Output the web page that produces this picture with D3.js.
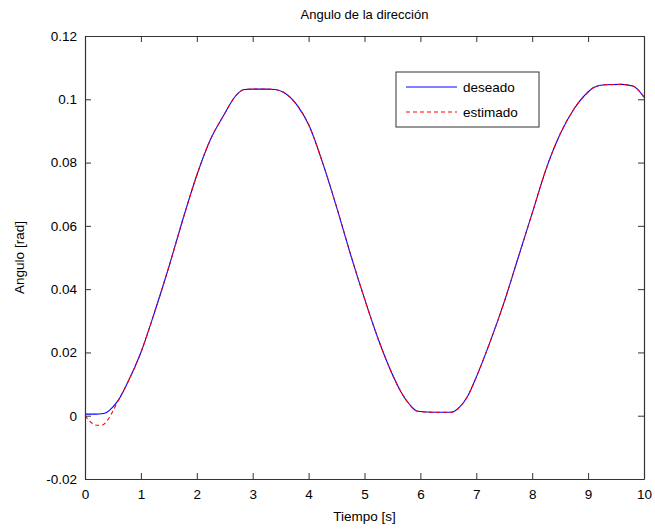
<!DOCTYPE html>
<html>
<head>
<meta charset="utf-8">
<script src="https://cdn.jsdelivr.net/npm/d3@7"></script>
<style>
body{margin:0;background:#fff;}
svg text{font-family:"Liberation Sans",Arial,sans-serif;fill:#000;}
</style>
</head>
<body>
<svg id="chart" width="655" height="529"></svg>
<script>
// tiempo [s]
var tiempo=[0,0.1,0.2,0.3,0.4,0.5,0.6,0.75,1,1.25,1.5,1.75,2,2.25,2.5,2.65,2.75,2.85,3,3.25,3.4,3.55,3.8,4,4.25,4.5,4.75,5,5.25,5.5,5.65,5.8,5.95,6.25,6.55,6.7,6.85,7,7.25,7.5,7.75,8,8.25,8.5,8.75,9,9.1,9.3,9.6,9.8,10];
var deseado=[0.0005,0.0005,0.0005,0.0006,0.0012,0.0028,0.005,0.010,0.020,0.033,0.047,0.062,0.076,0.0875,0.0955,0.1,0.1021,0.1031,0.1032,0.1032,0.1031,0.1022,0.098,0.092,0.080,0.066,0.051,0.037,0.024,0.013,0.0076,0.0037,0.0014,0.0011,0.0011,0.0027,0.0063,0.0122,0.0235,0.036,0.050,0.064,0.078,0.089,0.097,0.1023,0.1037,0.1046,0.1047,0.1042,0.1007];
var estimado=[0,-0.002,-0.003,-0.003,-0.0015,0.0015,0.005,0.010,0.020,0.033,0.047,0.062,0.076,0.0875,0.0955,0.1,0.1021,0.1031,0.1032,0.1032,0.1031,0.1022,0.098,0.092,0.080,0.066,0.051,0.037,0.024,0.013,0.0076,0.0037,0.0014,0.0011,0.0011,0.0027,0.0063,0.0122,0.0235,0.036,0.050,0.064,0.078,0.089,0.097,0.1023,0.1037,0.1046,0.1047,0.1042,0.1007];
var xTicks=[0,1,2,3,4,5,6,7,8,9,10];
var yTicks=[-0.02,0,0.02,0.04,0.06,0.08,0.1,0.12];
var yTickLabels=["-0.02","0","0.02","0.04","0.06","0.08","0.1","0.12"];

var svg=d3.select("#chart");
var mLeft=85,mTop=36,mRight=644,mBottom=479;

var x=d3.scaleLinear().domain([0,10]).range([mLeft,mRight]);
var y=d3.scaleLinear().domain([-0.02,0.12]).range([mBottom,mTop]);

var line=d3.line()
	.x(function(d){return x(d[0]);})
	.y(function(d){return y(d[1]);})
	.curve(d3.curveMonotoneX);

var plot=svg.append("g");
plot.append("path")
	.datum(tiempo.map(function(t,i){return [t,deseado[i]];}))
	.attr("fill","none").attr("stroke","#0000ff").attr("stroke-width",1.1)
	.attr("d",line);
plot.append("path")
	.datum(tiempo.map(function(t,i){return [t,estimado[i]];}))
	.attr("fill","none").attr("stroke","#ff0000").attr("stroke-width",1.1)
	.attr("stroke-dasharray","4,3")
	.attr("d",line);

// axes, ticks inside like matlab
var tk=6;
svg.append("g").attr("transform","translate(0,"+mBottom+")")
	.call(d3.axisBottom(x).tickValues(xTicks).tickSizeInner(-tk).tickSizeOuter(0).tickPadding(tk+4).tickFormat(d3.format("d")));
svg.append("g").attr("transform","translate(0,"+mTop+")")
	.call(d3.axisTop(x).tickValues(xTicks).tickSizeInner(-tk).tickSizeOuter(0).tickFormat(""));
svg.append("g").attr("transform","translate("+mLeft+",0)")
	.call(d3.axisLeft(y).tickValues(yTicks).tickSizeInner(-tk).tickSizeOuter(0).tickPadding(tk+2)
		.tickFormat(function(d,i){return yTickLabels[i];}));
svg.append("g").attr("transform","translate("+mRight+",0)")
	.call(d3.axisRight(y).tickValues(yTicks).tickSizeInner(-tk).tickSizeOuter(0).tickFormat(""));
svg.selectAll(".domain").attr("stroke","#333").attr("stroke-width",1.2);
svg.selectAll(".tick line").attr("stroke","#333");
svg.selectAll(".tick text").attr("font-size",13.5).attr("font-family","Liberation Sans, Arial, sans-serif").attr("fill","#000");

svg.append("text").attr("x",(mLeft+mRight)/2).attr("y",19).attr("text-anchor","middle")
	.attr("font-size",13).text("Angulo de la dirección");
svg.append("text").attr("x",(mLeft+mRight)/2).attr("y",521).attr("text-anchor","middle")
	.attr("font-size",13.5).text("Tiempo [s]");
svg.append("text").attr("transform","translate(24,"+((mTop+mBottom)/2)+") rotate(-90)")
	.attr("text-anchor","middle").attr("font-size",13.5).text("Angulo [rad]");

// legend
var lg=svg.append("g").attr("transform","translate(396,72)");
lg.append("rect").attr("width",143).attr("height",55).attr("fill","#fff").attr("stroke","#333").attr("stroke-width",1);
var items=[{n:"deseado",c:"#0000ff",d:null},{n:"estimado",c:"#ff0000",d:"4,3"}];
items.forEach(function(it,i){
	var yy=15+i*25;
	lg.append("line").attr("x1",10).attr("x2",61).attr("y1",yy).attr("y2",yy)
		.attr("stroke",it.c).attr("stroke-width",1.1).attr("stroke-dasharray",it.d);
	lg.append("text").attr("x",67).attr("y",yy+5).attr("font-size",13.5).text(it.n);
});
</script>
</body>
</html>
